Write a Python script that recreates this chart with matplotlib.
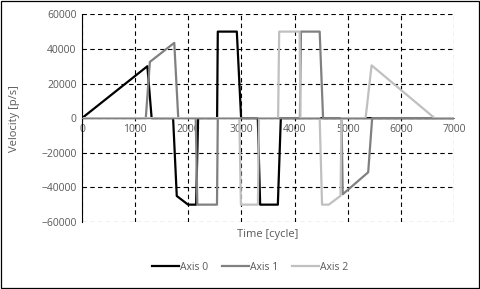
import matplotlib
matplotlib.use("Agg")
import matplotlib.pyplot as plt
from matplotlib.patches import Rectangle

# cycle / velocity pairs
axis0_t = [0, 1230, 1310, 1714, 1783, 1996, 2147, 2185, 2542, 2555, 2913, 2994,
           3308, 3352, 3685, 3741, 7000]
axis0_v = [0, 30000, 0, 0, -45000, -50000, -50000, 0, 0, 50000, 50000, 0,
           0, -50000, -50000, 0, 0]

axis1_t = [0, 1200, 1277, 1736, 1811, 2140, 2170, 2540, 2555, 4100, 4120, 4472,
           4536, 4883, 4906, 5385, 5460, 7000]
axis1_v = [0, 0, 32500, 43500, 0, 0, -50000, -50000, 0, 0, 50000, 50000,
           0, 0, -44000, -31300, 0, 0]

axis2_t = [0, 2960, 2990, 3310, 3330, 3690, 3710, 4095, 4110, 4472, 4517, 4643,
           4864, 4883, 5336, 5449, 6635, 7000]
axis2_v = [0, 0, -50000, -50000, 0, 0, 50000, 50000, 0, 0, -50000, -50000,
           -44900, 0, 0, 30500, 0, 0]

x_ticks = [0, 1000, 2000, 3000, 4000, 5000, 6000, 7000]
y_ticks = [-60000, -40000, -20000, 0, 20000, 40000, 60000]

plt.rcParams['font.family'] = ['Open Sans', 'DejaVu Sans']
text_col = '#595959'
W, H = 481, 289

fig = plt.figure(figsize=(W / 100, H / 100), dpi=100)
ax = fig.add_axes([0.1705, 0.232, 0.7734, 0.7185])

ax.plot(axis0_t, axis0_v, color='black', lw=1.6, label='Axis 0')
ax.plot(axis1_t, axis1_v, color='#808080', lw=1.6, label='Axis 1')
ax.plot(axis2_t, axis2_v, color='#c0c0c0', lw=1.6, label='Axis 2')

ax.set_xlim(0, 7000)
ax.set_ylim(-60000, 60000)
ax.set_xticks(x_ticks)
ax.set_yticks(y_ticks)
ax.grid(True, color='black', linestyle=(0, (4, 3)), linewidth=0.8)
ax.set_axisbelow(True)

for s in ['top', 'right']:
    ax.spines[s].set_visible(False)
ax.spines['bottom'].set_position(('data', 0))
ax.spines['bottom'].set_color('#808080')
ax.spines['left'].set_color('black')
ax.tick_params(length=0, labelsize=7.5, labelcolor=text_col, pad=4)

fig.text(0.557, 0.19, 'Time [cycle]', ha='center', va='center',
         fontsize=8, color=text_col)
fig.text(0.03, 0.59, 'Velocity [p/s]', ha='center', va='center',
         rotation=90, fontsize=8, color=text_col)

fig.legend(loc='center', bbox_to_anchor=(0.52, 0.075), ncol=3, frameon=False,
           fontsize=7.5, handlelength=2.6, handletextpad=0.1, columnspacing=1.3,
           labelcolor=text_col)

# chart area border
fig.add_artist(Rectangle((0.5 / W, 1 - 287.5 / H), 479 / W, 287 / H,
                         transform=fig.transFigure, fill=False,
                         edgecolor='black', linewidth=0.9))

plt.savefig('out.png', dpi=100)
